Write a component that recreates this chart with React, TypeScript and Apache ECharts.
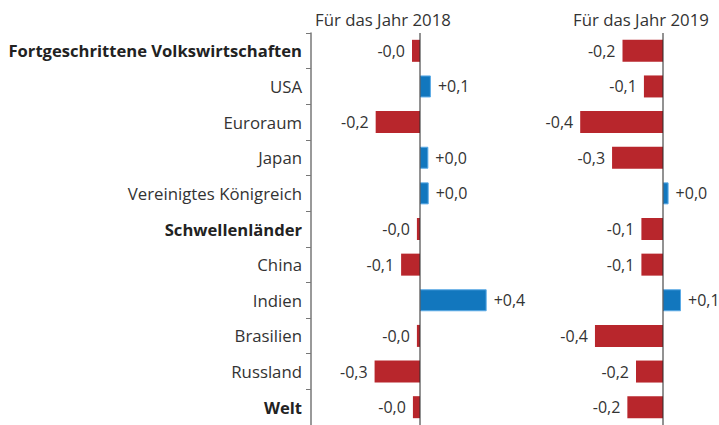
import React, { useEffect, useRef } from "react";
import * as echarts from "echarts";

const categories = [
  "Fortgeschrittene Volkswirtschaften",
  "USA",
  "Euroraum",
  "Japan",
  "Vereinigtes Königreich",
  "Schwellenländer",
  "China",
  "Indien",
  "Brasilien",
  "Russland",
  "Welt",
];
const boldCategories = ["Fortgeschrittene Volkswirtschaften", "Schwellenländer", "Welt"];

const values2018 = [-0.044, 0.06, -0.244, 0.046, 0.048, -0.017, -0.104, 0.367, -0.017, -0.25, -0.039];
const labels2018 = ["-0,0", "+0,1", "-0,2", "+0,0", "+0,0", "-0,0", "-0,1", "+0,4", "-0,0", "-0,3", "-0,0"];

const values2019 = [-0.225, -0.106, -0.46, -0.283, 0.031, -0.12, -0.12, 0.1, -0.378, -0.15, -0.198];
const labels2019 = ["-0,2", "-0,1", "-0,4", "-0,3", "+0,0", "-0,1", "-0,1", "+0,1", "-0,4", "-0,2", "-0,2"];

const panelTitles = ["Für das Jahr 2018", "Für das Jahr 2019"];

const FONT = "Open Sans";
const RED = "#b8262c";
const BLUE = "#1277be";

function makeData(vals: number[]) {
  return vals.map((v) => ({
    value: v,
    itemStyle: v < 0 ? { color: RED } : { color: BLUE, borderColor: "#5aaae6", borderWidth: 1 },
    label: { position: v < 0 ? "left" : "right" },
  }));
}

function makeSeries(idx: number, vals: number[], labels: string[]) {
  return {
    type: "bar",
    xAxisIndex: idx,
    yAxisIndex: idx,
    barWidth: 22,
    data: makeData(vals),
    label: {
      show: true,
      distance: 7,
      fontFamily: FONT,
      fontSize: 16,
      color: "#333",
      formatter: (p: any) => labels[p.dataIndex],
    },
    markLine: {
      silent: true,
      symbol: "none",
      label: { show: false },
      lineStyle: { color: "rgba(45,45,45,0.65)", width: 1.6, type: "solid" },
      data: [{ xAxis: 0 }],
      z: 10,
    },
  };
}

export default function App() {
  const ref = useRef<HTMLDivElement>(null);
  useEffect(() => {
    if (!ref.current) return;
    const chart = echarts.init(ref.current, undefined, { renderer: "svg" });
    chart.setOption({
      animation: false,
      backgroundColor: "#fff",
      graphic: [
        {
          type: "text",
          x: 315,
          y: 19,
          style: { text: panelTitles[0], fontFamily: FONT, fontSize: 16.8, fill: "#333", textVerticalAlign: "middle" },
        },
        {
          type: "text",
          x: 573,
          y: 19,
          style: { text: panelTitles[1], fontFamily: FONT, fontSize: 16.8, fill: "#333", textVerticalAlign: "middle" },
        },
      ],
      grid: [
        { left: 311, top: 33, width: 218, bottom: 0 },
        { left: 555, top: 33, width: 162, bottom: 0 },
      ],
      xAxis: [
        { type: "value", gridIndex: 0, min: -0.6, max: 0.6, show: false },
        { type: "value", gridIndex: 1, min: -0.6, max: 0.3, show: false },
      ],
      yAxis: [
        {
          type: "category",
          gridIndex: 0,
          data: categories,
          inverse: true,
          axisLine: { show: true, onZero: false, lineStyle: { color: "#777", width: 1.5 } },
          axisTick: { show: true, length: 5, lineStyle: { color: "#777" } },
          axisLabel: {
            margin: 9,
            fontFamily: FONT,
            fontSize: 16.8,
            color: "#333",
            formatter: (v: string) => (boldCategories.includes(v) ? `{b|${v}}` : v),
            rich: {
              b: { fontFamily: FONT, fontSize: 16.6, fontWeight: "bold", color: "#222" },
            },
          },
          splitLine: { show: false },
        },
        {
          type: "category",
          gridIndex: 1,
          data: categories,
          inverse: true,
          axisLine: { show: false },
          axisTick: { show: false },
          axisLabel: { show: false },
          splitLine: { show: false },
        },
      ],
      series: [makeSeries(0, values2018, labels2018), makeSeries(1, values2019, labels2019)],
    });
    return () => chart.dispose();
  }, []);
  return <div ref={ref} style={{ position: "fixed", left: 0, top: 0, width: 719, height: 425 }} />;
}
